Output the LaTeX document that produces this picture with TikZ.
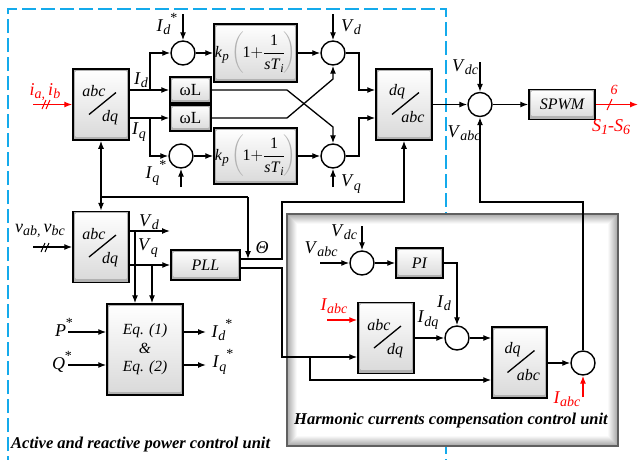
\documentclass[tikz,border=0pt]{standalone}
\usepackage{amsmath}
\usepackage{fontspec}
\setmainfont{Liberation Serif}
\usetikzlibrary{arrows.meta}
\definecolor{dashblue}{RGB}{20,170,235}
\newcommand{\convbox}[5]{%
  \node[blk, minimum width=#3, minimum height=71] (#1) at (#2) {};
  \node[boxt] (#1t) at ([shift={(-7pt,13pt)}]#1.center) {#4};
  \draw[line width=1.3pt] ([shift={(-12pt,-10pt)}]#1.center) -- ([shift={(15pt,12pt)}]#1.center);
  \node[boxt] (#1b) at ([shift={(9pt,-13pt)}]#1.center) {#5};
}
\newcommand{\sbfont}{\fontsize{14}{14}\selectfont}
\newcommand{\lb}[2]{\textit{#1}\raisebox{-0.4ex}{\sbfont\textit{#2}}}
\newcommand{\lbs}[2]{\textit{#1}\raisebox{-0.4ex}{\sbfont\textit{#2}}\raisebox{1.1ex}{\sbfont *}}
\newcommand{\kpform}{$\displaystyle\text{\textit{k}\raisebox{-0.4ex}{\fontsize{13}{13}\selectfont\textit{p}}}\,{\color{gray!60}\left(\vphantom{\frac{\text{1}}{\textit{sT}_{\textit{i}}}}\right.}\!\text{1}{+}\frac{\text{1}}{\text{\textit{sT}\raisebox{-0.4ex}{\fontsize{12}{12}\selectfont\textit{i}}}}\!{\color{gray!60}\left.\vphantom{\frac{\text{1}}{\textit{sT}_{\textit{i}}}}\right)}$}
\begin{document}
\begin{tikzpicture}[x=1pt,y=-1pt,
  ln/.style={line width=1.3pt},
  arr/.style={ln, -{Latex[length=8pt,width=6pt]}},
  arrtwo/.style={ln, {Latex[length=8pt,width=6pt]}-{Latex[length=8pt,width=6pt]}},
  sumc/.style={circle, draw, line width=1.4pt, minimum size=24pt, inner sep=0pt, fill=white},
  blk/.style={draw=black, line width=1.5pt, fill=gray!60, inner sep=0pt,
    path picture={\fill[top color=white, bottom color=gray!30]
      ([shift={(2.5pt,-2pt)}]path picture bounding box.north west) rectangle
      ([shift={(-2.5pt,4pt)}]path picture bounding box.south east);}},
  lbl/.style={font=\fontsize{18}{20}\selectfont, inner sep=0pt},
  boxt/.style={font=\fontsize{16}{18}\selectfont\itshape, inner sep=0pt},
  ttl/.style={font=\fontsize{16.5}{18}\selectfont\bfseries\itshape, inner sep=0pt},
  dsh/.style={draw=dashblue, line width=1.4pt, dash pattern=on 14pt off 5pt}
]
\useasboundingbox (0,0) rectangle (638,459);
% dashed unit border
\draw[dsh] (8,470) -- (8,9) -- (446,9) -- (446,470);
% harmonic unit frame
\foreach \i/\c in {0/66,1/60,2/53,3/46,4/39,5/32,6/25,7/18,8/11,9/5}{
  \fill[gray!\c] (287+\i,214+\i) rectangle (618-\i,446-\i);
}
\fill[white] (297,224) rectangle (608,436);
\draw[gray!75!black, line width=1.8pt] (287,214) rectangle (618,446);

% ---------- blocks ----------
\convbox{B1}{101,104.5}{56}{abc}{dq}
\convbox{B2}{101,247}{56}{abc}{dq}
\convbox{DQ1}{404,104.5}{56}{dq}{abc}
\convbox{B3}{386,338}{56}{abc}{dq}
\convbox{B4}{519.5,362.5}{55}{dq}{abc}

\node[sumc] (s1) at (183,53) {};
\node[sumc] (s2) at (181,156) {};
\node[sumc] (s3) at (333,53) {};
\node[sumc] (s4) at (333,156) {};
\node[sumc] (s5) at (480,104.5) {};
\node[sumc] (s6) at (583,363) {};
\node[sumc] (s7) at (362,263) {};
\node[sumc] (s8) at (457,338) {};

\node[blk, minimum width=41, minimum height=26, font=\fontsize{17}{18}\selectfont] (wL1) at (190.5,90) {ωL};
\node[blk, minimum width=41, minimum height=26, font=\fontsize{17}{18}\selectfont] (wL2) at (190.5,118) {ωL};

\node[blk, minimum width=83, minimum height=58, font=\fontsize{16}{18}\selectfont] (k1) at (255.5,53) {\kpform};
\node[blk, minimum width=83, minimum height=56, font=\fontsize{16}{18}\selectfont] (k2) at (255.5,156) {\kpform};

\node[blk, minimum width=66, minimum height=30, font=\fontsize{16}{18}\selectfont\itshape] (spwm) at (562,104.5) {SPWM};
\node[blk, minimum width=69, minimum height=30, font=\fontsize{16}{18}\selectfont\itshape] (pll) at (205.5,265) {PLL};
\node[blk, minimum width=47, minimum height=30, font=\fontsize{16}{18}\selectfont\itshape] (pi) at (419.5,263) {PI};
\node[blk, minimum width=76, minimum height=91, align=center, font=\fontsize{15.5}{18.5}\selectfont\itshape] (eq) at (145,349.5) {Eq. (1)\\\&\\Eq. (2)};

% ---------- connectors: current loop ----------
\coordinate (ia0) at (33,104.5);
\draw[arr,red] (ia0) -- (B1.west);
\draw[red, line width=1pt] (42,109) -- (46,100) (46,109) -- (50,100);
\coordinate (jd) at (150,90);
\coordinate (jq) at (150,118);
\draw[arr] (B1.east |- jd) -- (jd) |- (s1.west);
\draw[arr] (jd) -- (wL1.west);
\draw[arr] (B1.east |- jq) -- (jq) |- (s2.west);
\draw[arr] (jq) -- (wL2.west);
\draw[arr] (s1) -- (k1);
\draw[arr] (k1) -- (s3);
\draw[arr] (s2) -- (k2);
\draw[arr] (k2) -- (s4);
\coordinate (idst) at (183,14);
\draw[arr] (idst) -- (s1.north);
\coordinate (iqst) at (181,187);
\draw[arr] (iqst) -- (s2.south);
\coordinate (vdt) at (333,14);
\draw[arr] (vdt) -- (s3.north);
\coordinate (vqb) at (333,187);
\draw[arr] (vqb) -- (s4.south);
\coordinate (c1) at (287,90);
\coordinate (c2) at (333,127);
\coordinate (c3) at (287,118);
\coordinate (c4) at (333,79);
\draw[arr] (wL1.east |- c1) -- (c1) -- (c2) -- (s4.north);
\draw[arr] (wL2.east |- c3) -- (c3) -- (c4) -- (s3.south);
\coordinate (d1) at (359,90);
\coordinate (d2) at (359,118);
\draw[arr] (s3.east) -| (d1) -- (DQ1.west |- d1);
\draw[arr] (s4.east) -| (d2) -- (DQ1.west |- d2);
\draw[arr] (DQ1.east) -- (s5.west);
\coordinate (vdc0) at (480,62);
\draw[arr] (vdc0) -- (s5.north);
\draw[arr] (s5) -- (spwm);
\coordinate (sout) at (638,104.5);
\draw[arr,red] (spwm.east) -- (sout);
\draw[red, line width=1pt] (607,110) -- (612,99);
\coordinate (fb) at (480,202);
\draw[arr] (s6.north) |- (fb) -- (s5.south);

% ---------- theta / PLL ----------
\coordinate (pu) at (282,259);
\coordinate (pd) at (282,268);
\coordinate (th) at (404,202);
\draw[arr] (pll.east |- pu) -- (pu) |- (th) -- (DQ1.south);
\coordinate (tb) at (248,197);
\coordinate (bb) at (101,197);
\draw[arr] (tb) -- (tb |- pu);
\draw[ln] (tb) -- (bb);
\draw[arrtwo] (B1.south) -- (B2.north);
\coordinate (h1) at (282,357);
\coordinate (h2) at (310,357);
\coordinate (h3) at (310,380);
\draw[arr] (pll.east |- pd) -- (pd) -- (h1) -- (B3.west |- h1);
\draw[arr] (h2) -- (h3) -- (B4.west |- h3);

% ---------- voltage side ----------
\coordinate (va0) at (33,247);
\draw[arr] (va0) -- (B2.west |- va0);
\draw[line width=1pt] (41,252) -- (45,243) (45,252) -- (49,243);
\coordinate (vd) at (170,231);
\draw[arr] (B2.east |- vd) -- (vd);
\draw[arr] (B2.east |- pll) -- (pll.west);
\coordinate (vdj) at (135,231);
\coordinate (vqj) at (152,265);
\draw[arr] (vdj) -- (vdj |- eq.north);
\draw[arr] (vqj) -- (vqj |- eq.north);
\coordinate (p0) at (68,332);
\coordinate (q0) at (68,365);
\draw[arr] (p0) -- (eq.west |- p0);
\draw[arr] (q0) -- (eq.west |- q0);
\coordinate (o1) at (206,332);
\coordinate (o2) at (206,365);
\draw[arr] (eq.east |- o1) -- (o1);
\draw[arr] (eq.east |- o2) -- (o2);

% ---------- harmonic unit ----------
\coordinate (vab0) at (320,263);
\draw[arr] (vab0) -- (s7.west);
\coordinate (vdc1) at (362,226);
\draw[arr] (vdc1) -- (s7.north);
\draw[arr] (s7) -- (pi);
\draw[arr] (pi.east) -| (s8.north);
\coordinate (ia3) at (327,320);
\draw[arr,red] (ia3) -- (B3.west |- ia3);
\draw[arr] (B3.east |- s8) -- (s8.west);
\draw[arr] (s8.east) -- (B4.west |- s8);
\draw[arr] (B4.east |- s6) -- (s6.west);
\coordinate (ia4) at (583,397);
\draw[arr,red] (ia4) -- (s6.south);

% ---------- labels ----------
\node[lbl,red] (tia) at (45,92) {\lb{i}{a,}\,\lb{i}{b}};
\node[lbl] (tId) at (141,80) {\lb{I}{d}};
\node[lbl] (tIq) at (139,132) {\lb{I}{q}};
\node[lbl] (tIds) at (167,24) {\lbs{I}{d}};
\node[lbl] (tIqs) at (156,173) {\lbs{I}{q}};
\node[lbl] (tVd) at (351,27) {\lb{V}{d}};
\node[lbl] (tVq) at (351,184) {\lb{V}{q}};
\node[lbl] (tVdc) at (465,67) {\lb{V}{dc}};
\node[lbl] (tVabc) at (464,133) {\lb{V}{abc}};
\node[lbl,red] (t6) at (614,90) {\fontsize{14}{15}\selectfont\textit{6}};
\node[lbl,red] (tS) at (611,127) {\lb{S}{1}\textit{-}\lb{S}{6}};
\node[lbl] (tth) at (262,248) {\textit{Θ}};
\node[lbl] (tvab) at (40,231) {\lb{v}{ab,}\,\lb{v}{bc}};
\node[lbl] (tVd2) at (149,222) {\lb{V}{d}};
\node[lbl] (tVq2) at (148,248) {\lb{V}{q}};
\node[lbl] (tP) at (64,327) {\textit{P}\raisebox{1.1ex}{\sbfont *}};
\node[lbl] (tQ) at (62,362) {\textit{Q}\raisebox{1.1ex}{\sbfont *}};
\node[lbl] (tIdo) at (222,330) {\lbs{I}{d}};
\node[lbl] (tIqo) at (223,362) {\lbs{I}{q}};
\node[lbl] (tVabc2) at (321,249) {\lb{V}{abc}};
\node[lbl] (tVdc2) at (344,232) {\lb{V}{dc}};
\node[lbl] (tId3) at (444,303) {\lb{I}{d}};
\node[lbl] (tIdq) at (428,320) {\lb{I}{dq}};
\node[lbl,red] (tIa3) at (334,306) {\lb{I}{abc}};
\node[lbl,red] (tIa4) at (567,399) {\lb{I}{abc}};
\node[ttl] (ttl2) at (451,421) {Harmonic currents compensation control unit};
\node[ttl, anchor=west] (ttl1) at (11,445) {Active and reactive power control unit};
\end{tikzpicture}
\end{document}
